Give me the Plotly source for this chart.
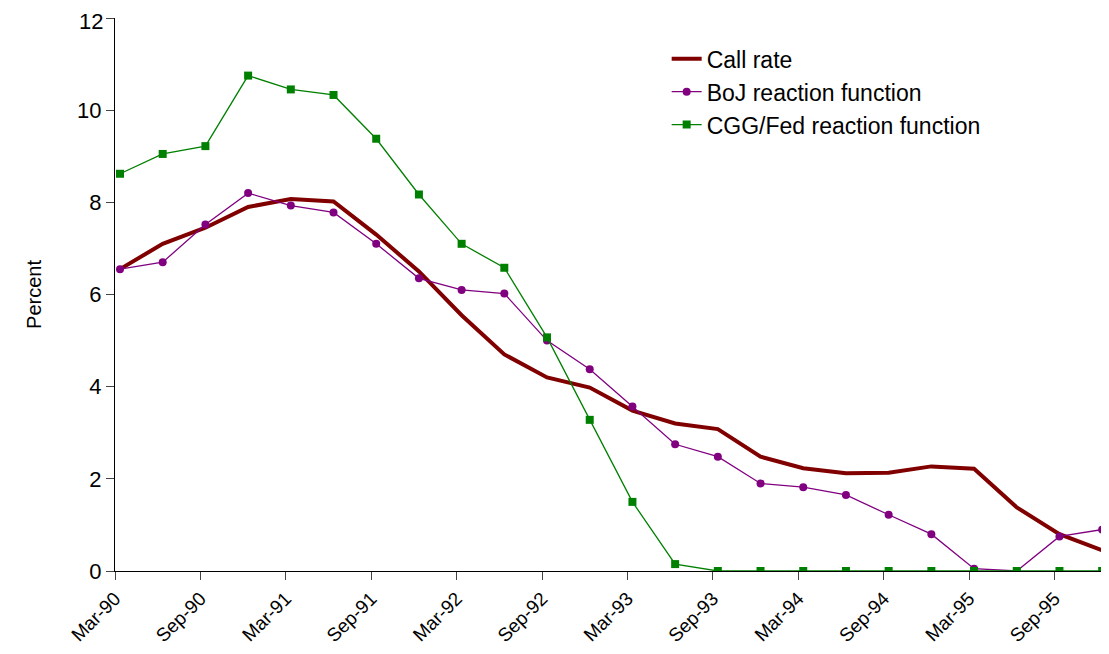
import plotly.graph_objects as go

periods = ["Mar-90", "Jun-90", "Sep-90", "Dec-90", "Mar-91", "Jun-91", "Sep-91", "Dec-91",
           "Mar-92", "Jun-92", "Sep-92", "Dec-92", "Mar-93", "Jun-93", "Sep-93", "Dec-93",
           "Mar-94", "Jun-94", "Sep-94", "Dec-94", "Mar-95", "Jun-95", "Sep-95", "Dec-95"]
call_rate = [6.55, 7.1, 7.45, 7.9, 8.07, 8.02, 7.3, 6.5, 5.55, 4.7, 4.2, 3.98,
             3.48, 3.2, 3.08, 2.48, 2.23, 2.12, 2.13, 2.27, 2.22, 1.38, 0.8, 0.45]
boj = [6.55, 6.7, 7.52, 8.2, 7.93, 7.78, 7.1, 6.35, 6.1, 6.02, 5.0, 4.38,
       3.57, 2.75, 2.48, 1.9, 1.82, 1.65, 1.22, 0.8, 0.05, 0.0, 0.75, 0.9]
cgg = [8.62, 9.05, 9.22, 10.75, 10.45, 10.33, 9.38, 8.17, 7.1, 6.58, 5.07, 3.28,
       1.5, 0.15, 0, 0, 0, 0, 0, 0, 0, 0, 0, 0]
tick_labels = periods[::2]

x = list(range(len(periods)))
off = -0.117

fig = go.Figure()
fig.add_scatter(x=x, y=call_rate, mode="lines", name="Call rate",
                line=dict(color="#800000", width=4))
fig.add_scatter(x=x, y=boj, mode="lines+markers", name="BoJ reaction function",
                line=dict(color="#800080", width=1.3), marker=dict(size=8, color="#800080"))
fig.add_scatter(x=x, y=cgg, mode="lines+markers", name="CGG/Fed reaction function",
                line=dict(color="#008000", width=1.3),
                marker=dict(size=8, color="#008000", symbol="square"))

fig.update_layout(
    width=1109, height=654, margin=dict(l=107, r=8, t=10, b=91),
    plot_bgcolor="white", paper_bgcolor="white",
    font=dict(family="Arial, Liberation Sans", size=22, color="black"),
    showlegend=True,
    legend=dict(x=0.555, y=0.965, xanchor="left", yanchor="top", bgcolor="rgba(0,0,0,0)",
                font=dict(size=23), tracegroupgap=0),
)
# top tick label would be hidden by the tight top margin, so draw it by hand
fig.add_annotation(x=0, y=12, xref="paper", yref="y", text="12", showarrow=False,
                   xanchor="right", yanchor="middle", xshift=-10, yshift=-3, font=dict(size=22))
fig.update_xaxes(range=[off, 23.16], tickvals=[off + 2 * i for i in range(len(tick_labels))],
                 ticktext=tick_labels, tickangle=-45, ticks="outside", ticklen=8,
                 showline=True, linecolor="black", showgrid=False, zeroline=False,
                 tickfont=dict(size=19), automargin=False)
fig.update_yaxes(range=[0, 12], dtick=2, ticks="outside", ticklen=8, showline=True,
                 linecolor="black", showgrid=False, zeroline=False, automargin=False,
                 title=dict(text="Percent", font=dict(size=20), standoff=30),
                 tickfont=dict(size=22))

fig.write_html("out.html")
